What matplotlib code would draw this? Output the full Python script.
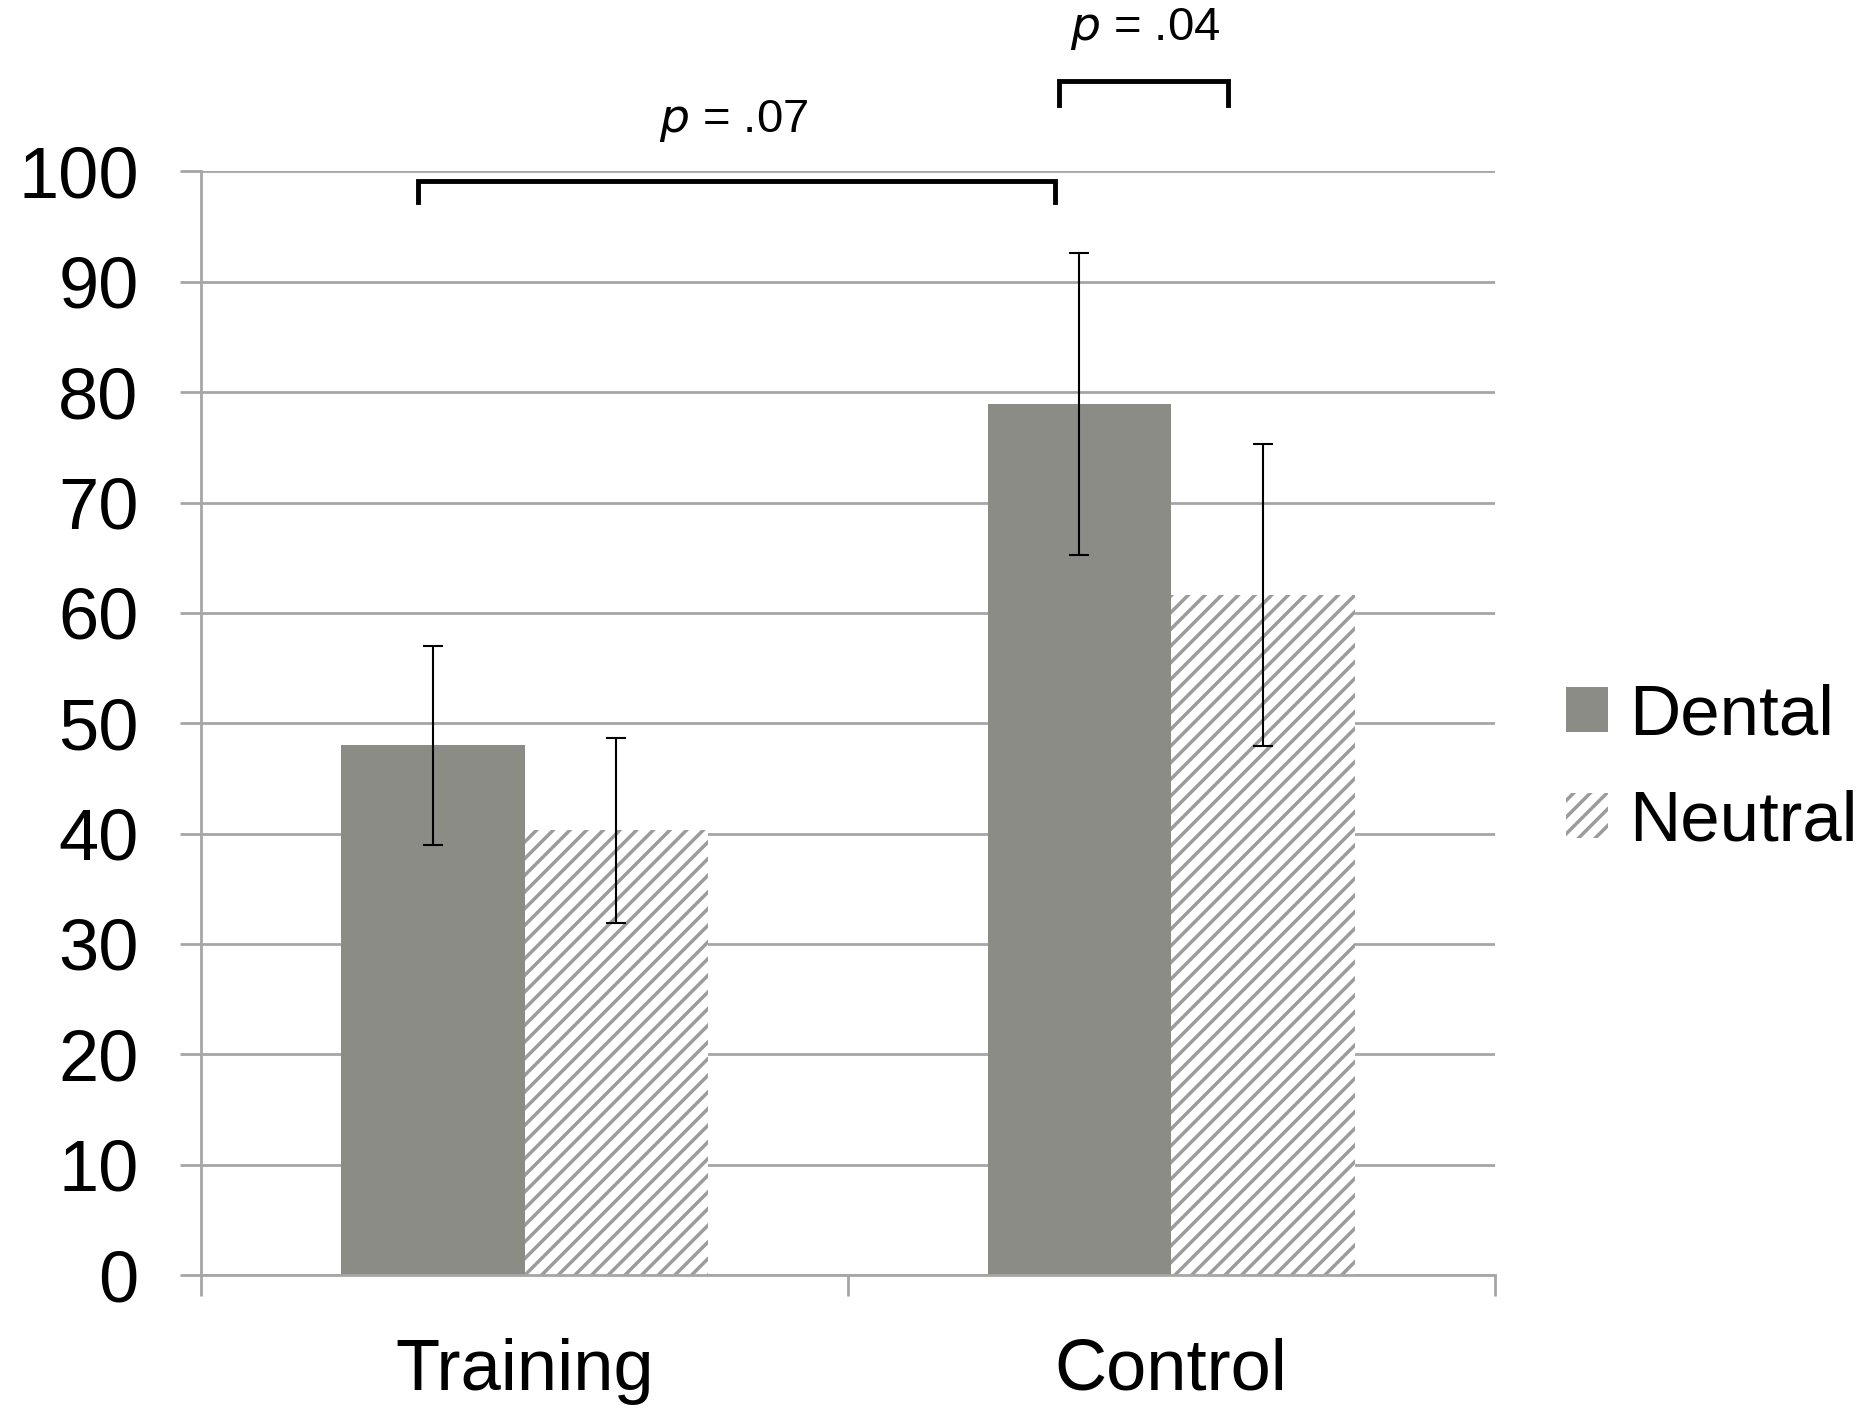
import numpy as np
import matplotlib.pyplot as plt
from matplotlib.patches import Patch

plt.rcParams['font.family'] = ['Liberation Sans', 'DejaVu Sans']
plt.rcParams['hatch.color'] = '#9c9c9c'
plt.rcParams['hatch.linewidth'] = 2.5

groups = ['Training', 'Control']
dental = [48.0, 78.9]
dental_err = [9.0, 13.7]
neutral = [40.3, 61.6]
neutral_err = [8.4, 13.7]
yticks = [0, 10, 20, 30, 40, 50, 60, 70, 80, 90, 100]

grid_c = '#a6a6a6'
fig = plt.figure(figsize=(18.66, 14.12), dpi=100)
ax = fig.add_axes([0.1078, 0.097, 0.6932, 0.7816])

x = np.arange(len(groups))
w = 0.284
ax.bar(x - w / 2, dental, w, color='#8b8c86', zorder=2, label='Dental')
ax.bar(x + w / 2, neutral, w, color='white', hatch='//', edgecolor='#9c9c9c',
       linewidth=0, zorder=2, label='Neutral')
ax.errorbar(x - w / 2, dental, yerr=dental_err, fmt='none', ecolor='black',
            elinewidth=1.5, capsize=7, capthick=1.5, zorder=3)
ax.errorbar(x + w / 2, neutral, yerr=neutral_err, fmt='none', ecolor='black',
            elinewidth=1.5, capsize=7, capthick=1.5, zorder=3)

ax.set_xlim(-0.5, 1.5)
ax.set_ylim(0, 100)
ax.set_yticks(yticks)
ax.yaxis.grid(True, color=grid_c, linewidth=2, zorder=0)
ax.set_axisbelow(True)

ax.set_xticks([-0.5, 0.5, 1.5])
ax.set_xticklabels([])
ax.set_xticks(x, minor=True)
ax.set_xticklabels(groups, minor=True)
ax.tick_params(axis='x', which='major', length=15, width=2, color=grid_c)
ax.tick_params(axis='x', which='minor', length=0, pad=45, labelsize=52)
ax.tick_params(axis='y', length=15, width=2, color=grid_c, labelsize=52, pad=30)

for s in ['top', 'right']:
    ax.spines[s].set_visible(False)
for s in ['left', 'bottom']:
    ax.spines[s].set_color(grid_c)
    ax.spines[s].set_linewidth(2)

# significance brackets
ax.plot([-0.164, -0.164, 0.8195, 0.8195], [97.2, 99.1, 99.1, 97.2],
        color='black', lw=3.5, clip_on=False, solid_joinstyle='miter')
ax.plot([0.827, 0.827, 1.088, 1.088], [106.0, 108.2, 108.2, 106.0],
        color='black', lw=3.5, clip_on=False, solid_joinstyle='miter')
ax.text(0.324, 104.6, r'$p$ = .07', ha='center', va='center', fontsize=34,
        clip_on=False)
ax.text(0.959, 112.9, r'$p$ = .04', ha='center', va='center', fontsize=34,
        clip_on=False)

handles = [Patch(facecolor='#8b8c86', label='Dental'),
           Patch(facecolor='white', hatch='//', edgecolor='#9c9c9c',
                 linewidth=0, label='Neutral')]
fig.legend(handles=handles, loc='center left', bbox_to_anchor=(0.839, 0.455),
           frameon=False, fontsize=51, handlelength=0.6, handleheight=0.6,
           handletextpad=0.3, labelspacing=0.57, borderaxespad=0, borderpad=0)

plt.savefig('out.png', dpi=100)
